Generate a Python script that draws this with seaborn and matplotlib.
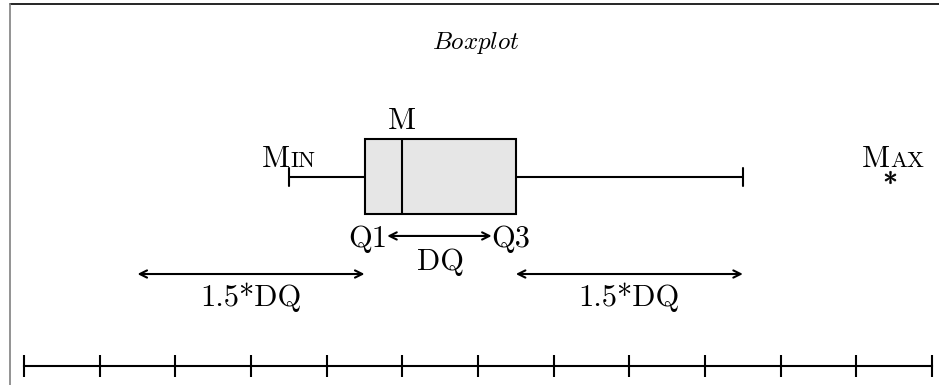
import matplotlib
matplotlib.use("Agg")
import matplotlib.pyplot as plt
import seaborn as sns
from matplotlib.lines import Line2D

# DATA

# sample whose five-number summary gives the drawn box
# min 3.5, Q1 4.5, median 5, Q3 6.5, upper whisker 9.5, one outlier
values = [3.5, 4.5, 4.5, 5, 5, 6.5, 6.5, 9.5, 11.45]
scale_ticks = [0, 1, 2, 3, 4, 5, 6, 7, 8, 9, 10, 11, 12]

q1 = 4.5
median = 5
q3 = 6.5
iqr = 2.0
whisker_low = 3.5
outlier = 11.45

# STYLE

sns.set_theme(style="white")
plt.rcParams["font.family"] = ["cmr10", "DejaVu Serif"]
plt.rcParams["mathtext.fontset"] = "cm"
plt.rcParams["axes.formatter.use_mathtext"] = True

LW = 1.5
FS = 22

# FIGURE

fig = plt.figure(figsize=(9.39, 3.85), dpi=100)
ax = fig.add_axes([0, 0, 1, 1])

sns.boxplot(
    x=values,
    orient="h",
    whis=1.5,
    width=0.8,
    color="#e6e6e6",
    saturation=1,
    linecolor="black",
    linewidth=LW,
    capwidths=0.19,
    flierprops=dict(
        marker=r"$\ast$",
        markersize=9,
        markerfacecolor="black",
        markeredgecolor="black",
        markeredgewidth=0.5
    ),
    ax=ax
)

# pixel-like layout: 1 unit on x = 75.67 px, box centre at y 0
ax.set_xlim(-0.317, 12.092)
ax.set_ylim(2.219, -1.888)

# scale at the bottom
for side in ["top", "right", "left"]:
    ax.spines[side].set_visible(False)
ax.spines["bottom"].set_position(("data", 2.016))
ax.spines["bottom"].set_bounds(scale_ticks[0], scale_ticks[-1])
ax.spines["bottom"].set_linewidth(LW)
ax.spines["bottom"].set_color("black")
ax.set_xticks(scale_ticks)
ax.set_yticks([])
ax.tick_params(
    axis="x",
    bottom=True,
    direction="inout",
    length=16.5,
    width=LW,
    color="black",
    labelbottom=False
)
ax.set_xlabel("")
ax.set_ylabel("")


def label(x, y, s, ha="center", size=FS):
    return ax.text(x, y, s, ha=ha, va="baseline", fontsize=size, color="black")


# LABELS

label(5.97, -1.36, r"$\mathit{Boxplot}$", size=18)
label(median, -0.512, "M")

# small caps Min / Max
label(3.515, -0.107, "M", ha="right")
label(3.515, -0.107, "IN", ha="left", size=FS * 0.74)
label(outlier, -0.107, "M", ha="right")
label(outlier, -0.107, "AX", ha="left", size=FS * 0.74)

arrow = dict(arrowstyle="<->", color="black", lw=LW,
             shrinkA=0, shrinkB=0, mutation_scale=13)

# DQ between Q1 and Q3
ax.annotate("", xy=(4.8, 0.629), xytext=(6.18, 0.629), arrowprops=arrow)
label(4.8, 0.747, "Q1", ha="right")
label(6.18, 0.747, "Q3", ha="left")
label((q1 + q3) / 2, 0.992, "DQ")

# 1.5*DQ on both sides
ax.annotate("", xy=(q1 - 1.5 * iqr, 1.035), xytext=(q1, 1.035), arrowprops=arrow)
ax.annotate("", xy=(q3, 1.035), xytext=(q3 + 1.5 * iqr, 1.035), arrowprops=arrow)
label(q1 - 0.75 * iqr, 1.376, "1.5*DQ")
label(q3 + 0.75 * iqr, 1.376, "1.5*DQ")

# frame, only top and left visible in the crop
fig.add_artist(Line2D([9.5 / 939, 1], [1 - 4.3 / 385, 1 - 4.3 / 385],
                      transform=fig.transFigure, color="black", lw=1.2))
fig.add_artist(Line2D([9.5 / 939, 9.5 / 939], [0, 1 - 4.3 / 385],
                      transform=fig.transFigure, color="#808080", lw=1.2))

fig.savefig("out.png", dpi=100)
plt.close(fig)
